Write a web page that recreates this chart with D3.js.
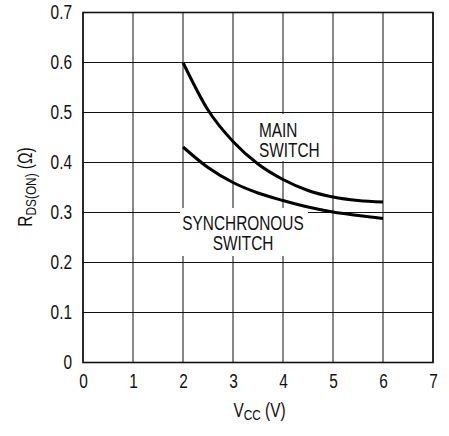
<!DOCTYPE html>
<html><head><meta charset="utf-8">
<script src="https://cdn.jsdelivr.net/npm/d3@7"></script>
<style>
html,body{margin:0;padding:0;background:#fff;}
svg text{font-family:"Liberation Sans Narrow","Liberation Sans",Arial,sans-serif;fill:#111;}
</style></head>
<body>
<svg id="c" width="449" height="436"></svg>
<script>
const vcc = [2, 2.5, 3, 3.5, 4, 4.5, 5, 5.5, 6];
const mainSwitch = [0.600, 0.505, 0.442, 0.397, 0.366, 0.344, 0.331, 0.324, 0.321];
const syncSwitch = [0.431, 0.390, 0.360, 0.339, 0.324, 0.311, 0.301, 0.294, 0.288];
const xTicks = [0, 1, 2, 3, 4, 5, 6, 7];
const yTicks = [0, 0.1, 0.2, 0.3, 0.4, 0.5, 0.6, 0.7];

const svg = d3.select("#c");
const x = d3.scaleLinear().domain([0, 7]).range([83, 433]);
const y = d3.scaleLinear().domain([0, 0.7]).range([362.5, 12.5]);
const fs = 19.5, sub = 15, K = 0.79;

// grid
const g = svg.append("g");
g.selectAll(".vx").data(xTicks).join("line")
  .attr("x1", d => x(d)).attr("x2", d => x(d))
  .attr("y1", y(0)).attr("y2", y(0.7))
  .attr("stroke", "#111").attr("stroke-width", 1);
g.selectAll(".hy").data(yTicks).join("line")
  .attr("y1", d => y(d)).attr("y2", d => y(d))
  .attr("x1", x(0)).attr("x2", x(7))
  .attr("stroke", "#111").attr("stroke-width", 1);

// axes tick labels via d3 axes
const xAxis = svg.append("g").attr("transform", `translate(0,${y(0)})`)
  .call(d3.axisBottom(x).tickValues(xTicks).tickFormat(d3.format("d")).tickSize(0).tickPadding(12));
const yAxis = svg.append("g").attr("transform", `translate(${x(0)},0)`)
  .call(d3.axisLeft(y).tickValues(yTicks).tickFormat(d => d === 0 ? "0" : d3.format(".1f")(d)).tickSize(0).tickPadding(11));
[xAxis, yAxis].forEach(a => {
  a.select(".domain").remove();
  a.selectAll("text").attr("font-size", fs).attr("font-family", null).attr("fill", "#111")
    .each(function () {
      const t = d3.select(this);
      const tx = +t.attr("x") || 0;
      t.attr("x", tx / K).attr("transform", `scale(${K},1)`);
    });
});

// border
svg.append("rect").attr("x", x(0)).attr("y", y(0.7))
  .attr("width", x(7) - x(0)).attr("height", y(0) - y(0.7))
  .attr("fill", "none").attr("stroke", "#111").attr("stroke-width", 1.6);

// label backgrounds
svg.append("rect").attr("x", 256).attr("y", 114).attr("width", 47).attr("height", 47).attr("fill", "#fff");
svg.append("rect").attr("x", 180).attr("y", 208).attr("width", 128).attr("height", 48).attr("fill", "#fff");

// curves
const line = d3.line().x(d => x(d[0])).y(d => y(d[1])).curve(d3.curveMonotoneX);
[mainSwitch, syncSwitch].forEach(s => {
  svg.append("path").datum(vcc.map((v, i) => [v, s[i]]))
    .attr("d", line).attr("fill", "none").attr("stroke", "#000").attr("stroke-width", 3);
});

// condensed text helper
function ctext(px, py, anchor, rot) {
  const gg = svg.append("g").attr("transform", `translate(${px},${py})${rot ? ` rotate(${rot})` : ""} scale(${K},1)`);
  return gg.append("text").attr("font-size", fs).attr("text-anchor", anchor || "start");
}

// series labels
const t1 = ctext(259, 137, "start");
t1.append("tspan").attr("x", 0).text("MAIN");
t1.append("tspan").attr("x", 0).attr("dy", 20).text("SWITCH");
const t2 = ctext(243, 230, "middle");
t2.append("tspan").attr("x", 0).text("SYNCHRONOUS");
t2.append("tspan").attr("x", 0).attr("dy", 20).text("SWITCH");

// axis titles
const xt = ctext(259.5, 417, "middle");
xt.append("tspan").text("V");
xt.append("tspan").attr("font-size", sub).attr("dy", 3).text("CC");
xt.append("tspan").attr("dy", -3).text(" (V)");

const yt = ctext(31.5, 187, "middle", -90);
yt.append("tspan").text("R");
yt.append("tspan").attr("font-size", sub).attr("dy", 4).text("DS(ON)");
yt.append("tspan").attr("dy", -4).text(" (Ω)");
</script>
</body></html>
